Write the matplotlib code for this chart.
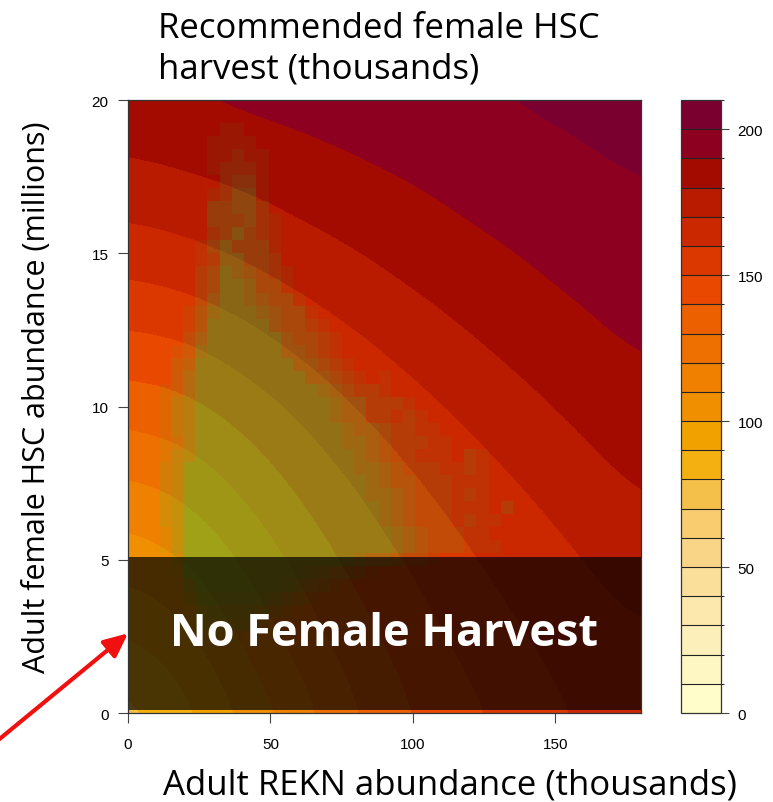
import matplotlib
matplotlib.use('Agg')
import matplotlib.pyplot as plt
import numpy as np
from matplotlib.colors import ListedColormap, BoundaryNorm
from matplotlib.cm import ScalarMappable

plt.rcParams.update({
    'font.family': 'Liberation Sans',
    'font.size': 11,
})

# recommended female HSC harvest (thousands)
rekn = np.array([0, 20, 40, 60, 80, 100, 120, 140, 160, 180])
hsc = np.array([0, 2, 4, 6, 8, 10, 12, 14, 16, 18, 20])
harvest = np.array([
    [75.0, 86.0, 101.0, 115.0, 129.0, 140.0, 147.5, 155.0, 161.5, 163.0],
    [86.5, 95.0, 109.5, 122.5, 134.7, 144.5, 152.2, 159.0, 164.7, 167.8],
    [98.2, 104.6, 116.8, 129.0, 140.4, 148.7, 157.0, 163.2, 168.0, 172.8],
    [110.0, 114.9, 125.1, 136.5, 146.0, 154.5, 161.8, 167.2, 172.1, 177.8],
    [121.7, 125.6, 134.5, 143.9, 152.3, 160.8, 166.8, 171.9, 177.6, 182.5],
    [134.3, 137.3, 144.1, 151.8, 160.8, 167.0, 172.4, 178.0, 182.8, 187.0],
    [146.8, 148.9, 155.0, 162.4, 168.3, 173.7, 179.1, 183.5, 187.6, 191.1],
    [159.1, 161.9, 166.5, 171.4, 176.2, 180.9, 184.8, 188.7, 191.8, 194.4],
    [170.0, 172.5, 175.9, 179.9, 183.3, 186.9, 190.3, 192.8, 195.4, 197.8],
    [179.4, 181.5, 183.9, 186.7, 189.7, 192.1, 194.4, 196.7, 199.0, 201.2],
    [187.3, 190.3, 192.3, 193.8, 195.3, 197.0, 199.2, 201.2, 202.5, 204.5],
])

levels = np.arange(0, 220, 10)
level_colors = ['#FFFDC9', '#FEF6C3', '#FDEFB9', '#FCE7AC', '#FADF9A',
                '#F9D687', '#F8CC6F', '#F5C04A', '#F4B010', '#F2A200',
                '#F09000', '#EF8000', '#EE7000', '#EC6000', '#E84800',
                '#DB3800', '#CC2800', '#B81B00', '#A30B00', '#8E0020',
                '#7A0030']
cb_ticks = [0, 50, 100, 150, 200]

# posterior density of the system state, one char per cell (0-6), top row first
dens_rekn_width = 4.29
dens_hsc_width = 0.425
dens_hsc_start = 0.12
density_rows = [
    "",
    "........11",
    ".......1111",
    ".......11211",
    ".......12221",
    "........2331",
    ".......12441",
    ".......33442",
    ".......333421",
    ".......235321",
    "......1353331",
    "......1255332",
    "......23654321",
    "......23665331",
    "......246654331",
    ".....13566654331",
    ".....136666643321",
    ".....2466666643321",
    "....12566666644321",
    "....236666666644321",
    "....2466666666644321.1",
    "...1246666666666543221",
    "...13466666666666544" + "2221",
    "...13466666666666544" + "22121",
    "...134666666666666" + "54432211",
    "...124666666666666" + "554322211",
    "...1346666666666666" + "54322111.21",
    "...2366666666666666" + "55432221121",
    "...23666666666666666" + "5433222111",
    "...23666666666666666" + "5543222121",
    "...236666666666666666" + "543222111.2",
    "...236666666666666666" + "5432221211",
    "...1366666666666666666" + "54322211",
    "...1366666666666666666" + "543222111",
    "....266666666666666" + "5443221",
    "....16666666666" + "543321",
    ".....46666666" + "54321",
    ".....2555555" + "4321",
    "......34444" + "321",
    "......23333" + "1",
    ".......111",
    "", "", "", "", "",
]

no_harvest_below = 5.1
no_harvest_from = 0.1

n_cols = max(len(r) for r in density_rows)
density = np.array([[0 if c == '.' else int(c) for c in r.ljust(n_cols, '.')]
                    for r in density_rows[::-1]])
x_edges = (np.arange(n_cols + 1) - 0.5) * dens_rekn_width
y_edges = dens_hsc_start + dens_hsc_width * np.arange(density.shape[0] + 1)

fig = plt.figure(figsize=(7.73, 8.03), dpi=100)
ax = fig.add_axes([0.1656, 0.1108, 0.6636, 0.7634])
cax = fig.add_axes([0.881, 0.1108, 0.0517, 0.7634])

cmap = ListedColormap(level_colors)
norm = BoundaryNorm(levels, cmap.N)

dx = rekn[1] - rekn[0]
dy = hsc[1] - hsc[0]
ax.imshow(harvest, origin='lower', cmap=cmap, norm=norm,
          extent=(rekn[0] - dx / 2, rekn[-1] + dx / 2, hsc[0] - dy / 2, hsc[-1] + dy / 2),
          interpolation='bicubic', interpolation_stage='data', aspect='auto')

green = ListedColormap([(0.0, 0.9, 0.27, 0.055 * n) for n in range(7)])
ax.pcolormesh(x_edges, y_edges, density, cmap=green,
              norm=BoundaryNorm(np.arange(-0.5, 7.5, 1), 7), shading='flat')

ax.axhspan(no_harvest_from, no_harvest_below, color='black', alpha=0.7, lw=0)
ax.set_xlim(rekn[0], rekn[-1])
ax.set_ylim(hsc[0], hsc[-1])
ax.text((rekn[0] + rekn[-1]) / 2, (no_harvest_from + no_harvest_below) / 2,
        'No Female Harvest', color='white', family='Open Sans', weight='bold',
        size=32.5, ha='center', va='center')

ax.set_xticks([0, 50, 100, 150])
ax.set_yticks([0, 5, 10, 15, 20])
ax.tick_params(direction='out', length=7, width=0.8, color='#444444',
               labelsize=11, pad=7)
ax.tick_params(axis='x', pad=10)
for s in ax.spines.values():
    s.set_color('#333333')
    s.set_linewidth(0.9)

cb = fig.colorbar(ScalarMappable(norm=norm, cmap=cmap), cax=cax,
                  drawedges=True, ticks=cb_ticks)
cb.dividers.set_color('#222222')
cb.dividers.set_linewidth(0.8)
cb.outline.set_edgecolor('#333333')
cb.outline.set_linewidth(0.9)
cax.tick_params(direction='out', length=6, width=0.8, color='#444444',
                labelsize=11, pad=6)

fig.text(0.204, 0.985, 'Recommended female HSC\nharvest (thousands)',
         family='Open Sans', size=25, ha='left', va='top', linespacing=1.25)
fig.text(0.582, 0.022, 'Adult REKN abundance (thousands)',
         family='Open Sans', size=25, ha='center', va='center')
fig.text(0.048, 0.5056, 'Adult female HSC abundance (millions)',
         family='Open Sans', size=22, ha='center', va='center', rotation=90)

ax.annotate('', xy=(0, (no_harvest_from + no_harvest_below) / 2), xycoords='data',
            xytext=(-0.005, 0.075), textcoords='figure fraction',
            arrowprops=dict(arrowstyle='-|>,head_length=1.2,head_width=0.55',
                            color='#F01010', lw=3, mutation_scale=12,
                            shrinkA=0, shrinkB=0),
            annotation_clip=False)

fig.savefig('out.png', dpi=100)
